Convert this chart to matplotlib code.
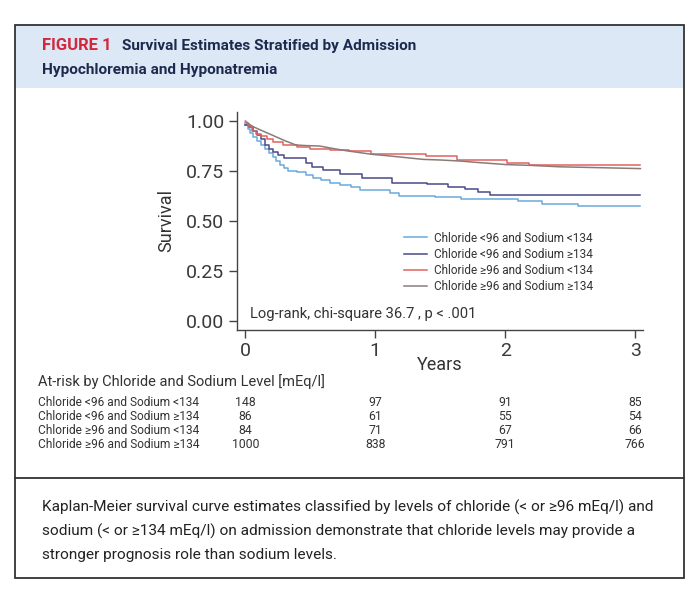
import matplotlib
matplotlib.use('Agg')
import matplotlib.pyplot as plt
from matplotlib.patches import Rectangle
import matplotlib.transforms as mtransforms

plt.rcParams['font.family'] = ['Roboto', 'DejaVu Sans']

# Kaplan-Meier curves (years, survival)
t_lo_lo = [0, 0.02, 0.04, 0.06, 0.09, 0.12, 0.15, 0.18, 0.21, 0.24, 0.27, 0.30, 0.33, 0.40,
           0.47, 0.52, 0.58, 0.65, 0.73, 0.81, 0.88, 1.11, 1.18, 1.46, 1.66, 2.10, 2.28, 2.56, 3.04]
s_lo_lo = [0.98, 0.96, 0.94, 0.92, 0.90, 0.88, 0.86, 0.84, 0.82, 0.80, 0.78, 0.765, 0.75, 0.745,
           0.73, 0.715, 0.705, 0.69, 0.68, 0.668, 0.657, 0.638, 0.627, 0.618, 0.608, 0.60, 0.585, 0.575, 0.575]

t_lo_hi = [0, 0.03, 0.06, 0.09, 0.12, 0.15, 0.18, 0.21, 0.25, 0.30, 0.47, 0.51, 0.60, 0.73,
           0.90, 1.13, 1.40, 1.56, 1.69, 1.79, 1.88, 3.04]
s_lo_hi = [0.98, 0.97, 0.95, 0.93, 0.91, 0.88, 0.86, 0.845, 0.83, 0.815, 0.79, 0.77, 0.753, 0.737,
           0.717, 0.69, 0.683, 0.67, 0.658, 0.645, 0.628, 0.628]

t_hi_lo = [0, 0.02, 0.05, 0.08, 0.12, 0.165, 0.21, 0.29, 0.40, 0.50, 0.65, 0.80, 0.97, 1.39,
           1.63, 2.01, 2.18, 3.04]
s_hi_lo = [0.99, 0.975, 0.95, 0.935, 0.925, 0.91, 0.895, 0.878, 0.87, 0.862, 0.855, 0.848, 0.833, 0.825,
           0.805, 0.79, 0.78, 0.78]

t_hi_hi = [0, 0.05, 0.11, 0.17, 0.24, 0.31, 0.39, 0.47, 0.57, 0.68, 0.78, 0.88, 0.98, 1.10,
           1.25, 1.37, 1.50, 1.65, 1.80, 2.01, 2.20, 2.42, 2.70, 3.04]
s_hi_hi = [1.00, 0.975, 0.957, 0.94, 0.92, 0.90, 0.88, 0.877, 0.875, 0.862, 0.851, 0.842, 0.833, 0.826,
           0.816, 0.808, 0.805, 0.80, 0.792, 0.782, 0.778, 0.771, 0.767, 0.762]

groups = ['Chloride <96 and Sodium <134', 'Chloride <96 and Sodium \u2265134',
          'Chloride \u226596 and Sodium <134', 'Chloride \u226596 and Sodium \u2265134']
colors = ['#6aa9dc', '#4a4a86', '#e0625c', '#8c7a78']

risk_times = [0, 1, 2, 3]
at_risk = [[148, 97, 91, 85],
           [86, 61, 55, 54],
           [84, 71, 67, 66],
           [1000, 838, 791, 766]]

W, H = 700, 592
def fx(px):
    return px / W
def fy(py):
    return 1 - py / H

fig = plt.figure(figsize=(7, 5.92), dpi=100)

# frame and header band
fig.patches.append(Rectangle((fx(15), fy(88)), fx(684) - fx(15), fy(25) - fy(88),
                             transform=fig.transFigure, facecolor='#dde8f6', edgecolor='none', zorder=0))
fig.patches.append(Rectangle((fx(15), fy(578)), fx(684) - fx(15), fy(25) - fy(578),
                             transform=fig.transFigure, facecolor='none', edgecolor='#333333', lw=1.3, zorder=5))
fig.add_artist(plt.Line2D([fx(15), fx(684)], [fy(478), fy(478)], transform=fig.transFigure,
                          color='#333333', lw=1.3))

fig.text(fx(42), fy(46), 'FIGURE 1', color='#d3283c', fontsize=12, fontweight='bold', va='center')
fig.text(fx(122), fy(46), 'Survival Estimates Stratified by Admission', color='#1c2a4e',
         fontsize=11.1, fontweight='bold', va='center')
fig.text(fx(42), fy(70), 'Hypochloremia and Hyponatremia', color='#1c2a4e',
         fontsize=11.1, fontweight='bold', va='center')

# main axes
ax = fig.add_axes([fx(236.7), fy(330), fx(643) - fx(236.7), fy(112) - fy(330)])
ax.plot(t_lo_lo, s_lo_lo, drawstyle='steps-post', color=colors[0], lw=1.1, label=groups[0])
ax.plot(t_lo_hi, s_lo_hi, drawstyle='steps-post', color=colors[1], lw=1.1, label=groups[1])
ax.plot(t_hi_lo, s_hi_lo, drawstyle='steps-post', color=colors[2], lw=1.1, label=groups[2])
ax.plot(t_hi_hi, s_hi_hi, color=colors[3], lw=1.1, label=groups[3])

ax.set_xlim(-0.066, 3.06)
ax.set_ylim(-0.045, 1.045)
ax.set_xticks([0, 1, 2, 3])
ax.set_yticks([0, 0.25, 0.5, 0.75, 1.0])
ax.set_yticklabels(['0.00', '0.25', '0.50', '0.75', '1.00'])
for s in ['top', 'right']:
    ax.spines[s].set_visible(False)
for s in ['left', 'bottom']:
    ax.spines[s].set_color('#444444')
    ax.spines[s].set_linewidth(1.0)
ax.tick_params(direction='out', length=6, width=1, colors='#444444', labelsize=14,
               labelcolor='#3a3a3a', pad=3)
ax.set_ylabel('Survival', fontsize=13, color='#333333', labelpad=8)
ax.set_xlabel('Years', fontsize=13, color='#333333', labelpad=-3)

ax.text(0.04, 0.035, 'Log-rank, chi-square 36.7 , p < .001', fontsize=10.6, color='#333333',
        transform=ax.transData, va='center')

ax.legend(loc='upper left', bbox_to_anchor=(fx(393), fy(221)), bbox_transform=fig.transFigure,
          frameon=False, fontsize=8.5, handlelength=1.95, handletextpad=0.6, labelspacing=0.27,
          labelcolor='#333333')

# at-risk table
fig.text(fx(38), fy(382), 'At-risk by Chloride and Sodium Level [mEq/l]', fontsize=10.5,
         color='#333333', va='center')
blend = mtransforms.blended_transform_factory(ax.transData, fig.transFigure)
row_y = [402, 416, 430, 445]
for i, g in enumerate(groups):
    fig.text(fx(38), fy(row_y[i]), g, fontsize=8.6, color='#333333', va='center')
    for t, n in zip(risk_times, at_risk[i]):
        ax.text(t, fy(row_y[i]), str(n), fontsize=8.8, color='#333333', va='center', ha='center',
                transform=blend, clip_on=False)

# caption
caption = ['Kaplan-Meier survival curve estimates classified by levels of chloride (< or \u226596 mEq/l) and',
           'sodium (< or \u2265134 mEq/l) on admission demonstrate that chloride levels may provide a',
           'stronger prognosis role than sodium levels.']
for i, line in enumerate(caption):
    fig.text(fx(42), fy(507 + 24 * i), line, fontsize=11.1, color='#222222', va='center')

fig.savefig('out.png', dpi=100)
